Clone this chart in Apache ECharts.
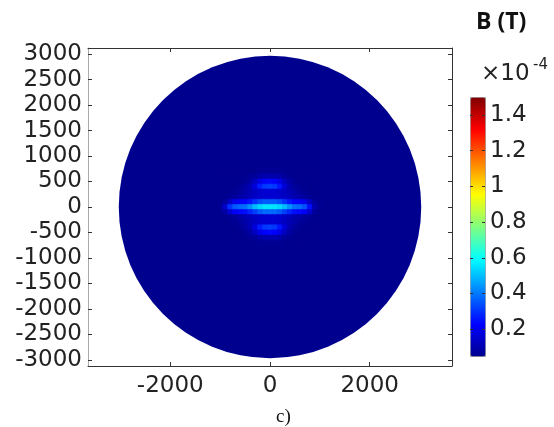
<!DOCTYPE html>
<html>
<head>
<meta charset="utf-8">
<script src="https://cdn.jsdelivr.net/npm/echarts@6/dist/echarts.min.js"></script>
<style>
html,body{margin:0;padding:0;background:#fff;}
#chart{width:554px;height:427px;}
</style>
</head>
<body>
<div id="chart"></div>
<script>
// ---- axis ranges and ticks ----
const X_RANGE = [-3650, 3650];
const Y_RANGE = [-3120, 3120];
const X_TICKS = [-2000, 0, 2000];
const Y_TICKS = [-3000, -2500, -2000, -1500, -1000, -500, 0, 500, 1000, 1500, 2000, 2500, 3000];

// ---- colour bar (values x 1e-4 T) ----
const CBAR_RANGE = [0.05, 1.5];
const CBAR_TICKS = [0.2, 0.4, 0.6, 0.8, 1, 1.2, 1.4];
const JET = ['#00008F', '#0000FF', '#0080FF', '#00FFFF', '#80FF80', '#FFFF00', '#FF8000', '#FF0000', '#800000'];

// ---- circular domain ----
const DOMAIN_RADIUS = 3000;
const DOMAIN_B = 0.05;

// ---- field near the centre (B, x 1e-4 T) ----
const FIELD_X = [-1000, -900, -800, -700, -600, -500, -400, -300, -200, -100, 0, 100, 200, 300, 400, 500, 600, 700, 800, 900, 1000];
const FIELD_Y = [700, 600, 500, 400, 300, 200, 100, 0, -100, -200, -300, -400, -500, -600, -700];
const FIELD_B = [
  [.05,.05,.05,.05,.05,.05,.05,.05,.06,.06,.06,.06,.06,.05,.05,.05,.05,.05,.05,.05,.05],
  [.05,.05,.05,.05,.05,.05,.06,.07,.09,.10,.10,.10,.09,.07,.06,.05,.05,.05,.05,.05,.05],
  [.05,.05,.05,.05,.05,.06,.08,.13,.19,.23,.24,.23,.19,.13,.08,.06,.05,.05,.05,.05,.05],
  [.05,.05,.05,.05,.06,.08,.11,.18,.27,.31,.32,.31,.26,.17,.10,.07,.06,.05,.05,.05,.05],
  [.05,.05,.05,.06,.07,.09,.11,.13,.15,.16,.16,.16,.15,.13,.11,.09,.07,.06,.05,.05,.05],
  [.05,.05,.06,.07,.09,.10,.12,.14,.15,.16,.16,.16,.15,.14,.12,.10,.09,.07,.06,.05,.05],
  [.05,.07,.14,.20,.22,.23,.26,.30,.34,.36,.36,.36,.34,.30,.26,.23,.22,.20,.13,.07,.05],
  [.06,.15,.30,.36,.38,.39,.44,.50,.54,.56,.56,.56,.54,.50,.44,.39,.38,.35,.25,.10,.06],
  [.05,.08,.16,.22,.24,.25,.28,.32,.36,.38,.38,.38,.36,.32,.28,.25,.24,.22,.15,.07,.05],
  [.05,.05,.06,.07,.09,.10,.12,.14,.15,.16,.16,.16,.15,.14,.12,.10,.09,.07,.06,.05,.05],
  [.05,.05,.05,.06,.07,.09,.11,.13,.15,.16,.16,.16,.15,.13,.11,.09,.07,.06,.05,.05,.05],
  [.05,.05,.05,.05,.06,.08,.11,.18,.27,.31,.32,.31,.26,.17,.10,.07,.06,.05,.05,.05,.05],
  [.05,.05,.05,.05,.05,.06,.08,.13,.19,.23,.24,.23,.19,.13,.08,.06,.05,.05,.05,.05,.05],
  [.05,.05,.05,.05,.05,.05,.06,.07,.09,.10,.10,.10,.09,.07,.06,.05,.05,.05,.05,.05,.05],
  [.05,.05,.05,.05,.05,.05,.05,.05,.06,.06,.06,.06,.06,.05,.05,.05,.05,.05,.05,.05,.05]
];

const TITLE_TEXT = 'B (T)';
const SCALE_TEXT = '\u00d710';
const SCALE_EXP = '-4';
const CAPTION = 'c)';

// ---- build ----
const cellW = FIELD_X[1] - FIELD_X[0];
const cellH = FIELD_Y[0] - FIELD_Y[1];
const fieldData = [];
FIELD_Y.forEach((y, i) => FIELD_X.forEach((x, j) => fieldData.push([x, y, FIELD_B[i][j]])));

const FONT = 'DejaVu Sans';
const chart = echarts.init(document.getElementById('chart'), null, {renderer: 'canvas'});

function tickCfg(vals){ return {show: true, inside: true, length: 4, customValues: vals, lineStyle: {color: '#333', width: 1}}; }
const plain = v => String(v);

chart.setOption({
  animation: false,
  backgroundColor: '#ffffff',
  grid: [
    {left: 88, right: 102, top: 48, bottom: 61, containLabel: false},
    {left: 470, top: 97, width: 15, height: 259, containLabel: false}
  ],
  xAxis: [
    {type: 'value', gridIndex: 0, position: 'bottom', min: X_RANGE[0], max: X_RANGE[1],
      axisLine: {onZero: false, lineStyle: {color: '#333', width: 1}},
      axisTick: tickCfg(X_TICKS),
      axisLabel: {customValues: X_TICKS, formatter: plain, fontFamily: FONT, fontSize: 23, color: '#222', margin: 9},
      splitLine: {show: false}, z: 10},
    {type: 'value', gridIndex: 0, position: 'top', min: X_RANGE[0], max: X_RANGE[1],
      axisLine: {onZero: false, lineStyle: {color: '#333', width: 1}},
      axisTick: tickCfg(X_TICKS), axisLabel: {show: false}, splitLine: {show: false}, z: 10},
    {type: 'value', gridIndex: 1, show: false, min: 0, max: 1}
  ],
  yAxis: [
    {type: 'value', gridIndex: 0, position: 'left', min: Y_RANGE[0], max: Y_RANGE[1],
      axisLine: {onZero: false, lineStyle: {color: '#aaa', width: 1}},
      axisTick: tickCfg(Y_TICKS),
      axisLabel: {customValues: Y_TICKS, formatter: plain, fontFamily: FONT, fontSize: 23, color: '#222', margin: 6},
      splitLine: {show: false}, z: 10},
    {type: 'value', gridIndex: 0, position: 'right', min: Y_RANGE[0], max: Y_RANGE[1],
      axisLine: {onZero: false, lineStyle: {color: '#333', width: 1}},
      axisTick: tickCfg(Y_TICKS), axisLabel: {show: false}, splitLine: {show: false}, z: 10},
    {type: 'value', gridIndex: 1, position: 'right', min: CBAR_RANGE[0], max: CBAR_RANGE[1],
      axisLine: {show: false, onZero: false},
      axisTick: {show: true, inside: true, length: 3, customValues: CBAR_TICKS, lineStyle: {color: '#333'}},
      axisLabel: {customValues: CBAR_TICKS, fontFamily: FONT, fontSize: 23, color: '#222', margin: 5,
        formatter: v => (v === 1 ? '1' : v.toFixed(1))},
      splitLine: {show: false}, z: 10},
    {type: 'value', gridIndex: 1, position: 'left', min: CBAR_RANGE[0], max: CBAR_RANGE[1],
      axisLine: {show: false, onZero: false},
      axisTick: {show: true, inside: true, length: 3, customValues: CBAR_TICKS, lineStyle: {color: '#333'}},
      axisLabel: {show: false}, splitLine: {show: false}, z: 10}
  ],
  visualMap: {
    type: 'continuous', min: CBAR_RANGE[0], max: CBAR_RANGE[1], dimension: 2, seriesIndex: [0, 1],
    calculable: false, left: 470, top: 97, itemWidth: 15, itemHeight: 259, padding: 0,
    borderColor: '#999', borderWidth: 1, text: null, hoverLink: false,
    inRange: {color: JET}, z: 4
  },
  series: [
    {
      type: 'custom', xAxisIndex: 0, yAxisIndex: 0, z: 1,
      data: [[0, 0, DOMAIN_B, DOMAIN_RADIUS]],
      renderItem: (params, api) => {
        const c = api.coord([api.value(0), api.value(1)]);
        const r = api.value(3);
        const sz = api.size([r, r]);
        return {type: 'circle', shape: {cx: c[0], cy: c[1], r: (sz[0] + sz[1]) / 2}, style: {fill: api.visual('color')}};
      }
    },
    {
      type: 'custom', xAxisIndex: 0, yAxisIndex: 0, z: 2,
      data: fieldData,
      renderItem: (params, api) => {
        const x = api.value(0), y = api.value(1);
        const p0 = api.coord([x - cellW / 2, y + cellH / 2]);
        const p1 = api.coord([x + cellW / 2, y - cellH / 2]);
        const col = api.visual('color');
        return {type: 'rect', shape: {x: p0[0], y: p0[1], width: p1[0] - p0[0], height: p1[1] - p0[1]},
          style: {fill: col, stroke: col, lineWidth: 0.6}};
      }
    }
  ],
  graphic: [
    {type: 'text', left: 476, top: 11, style: {text: TITLE_TEXT, font: 'bold 23px "Open Sans"', fill: '#111'}},
    {type: 'text', left: 481, top: 63, style: {text: SCALE_TEXT, font: '23px "DejaVu Sans"', fill: '#222'}},
    {type: 'text', left: 533, top: 58, style: {text: SCALE_EXP, font: '15px "DejaVu Sans"', fill: '#222'}},
    {type: 'text', left: 276, top: 408, style: {text: CAPTION, font: '19px "Liberation Serif"', fill: '#111'}}
  ]
});
</script>
</body>
</html>
